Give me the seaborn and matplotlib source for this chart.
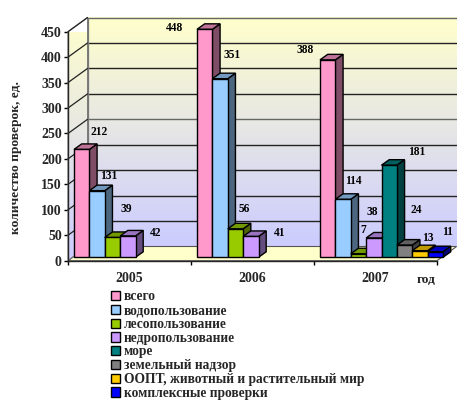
import numpy as np
import pandas as pd
import matplotlib
matplotlib.use("Agg")
import matplotlib.pyplot as plt
import seaborn as sns
from matplotlib.colors import LinearSegmentedColormap, to_rgb
from matplotlib.patches import Patch, Polygon
from matplotlib.transforms import Affine2D

years = ["2005", "2006", "2007"]
series_names = ["всего", "водопользование", "лесопользование", "недропользование",
                "море", "земельный надзор", "ООПТ, животный и растительный мир",
                "комплексные проверки"]
series_colors = ["#FF99CC", "#99CCFF", "#99CC00", "#CC99FF",
                 "#008080", "#808080", "#FFCC00", "#0000FF"]
counts_2005 = [212, 131, 39, 42]
counts_2006 = [448, 351, 56, 41]
counts_2007 = [388, 114, 7, 38, 181, 24, 13, 11]
y_ticks = [0, 50, 100, 150, 200, 250, 300, 350, 400, 450]
label_offsets_2005 = [(17, 17), (12, 15), (14, 28), (28, 3)]
label_offsets_2006 = [(-30, 1), (12, 24), (9, 20), (29, 3)]
label_offsets_2007 = [(-23, 10), (10, 18), (5, 24), (-2, 26), (27, 13), (12, 35), (8, 13), (12, 20)]

sns.set_theme(style="ticks", rc={
    "font.family": ["Liberation Serif", "DejaVu Serif"],
    "font.weight": "bold",
    "axes.labelweight": "bold",
    "axes.linewidth": 1.0,
})

records = []
for year, counts in zip(years, [counts_2005, counts_2006, counts_2007]):
    for name, value in zip(series_names, counts):
        records.append({"year": year, "series": name, "count": value})
frame = pd.DataFrame(records)

W, H = 457, 400
fig = plt.figure(figsize=(W / 100, H / 100), dpi=100, facecolor="white")
ax = fig.add_axes([68 / W, (H - 260.7) / H, 369 / W, 229 / H], facecolor="none")

sns.barplot(data=frame, x="year", y="count", hue="series", order=years,
            hue_order=series_names, palette=dict(zip(series_names, series_colors)),
            width=1.0, gap=0, saturation=1, errorbar=None, legend=False,
            edgecolor="black", linewidth=1.0, ax=ax, zorder=10)

ax.set_xlim(-0.5, 2.5)
ax.set_ylim(0, 450)
px_x = 3 / 369          # data units per pixel, horizontally
px_y = 450 / 229        # data units per pixel, vertically

# Back wall and floor of the pseudo-3D box
depth_x, depth_y = 19.6 * px_x, 14.2 * px_y
wall_cmap = LinearSegmentedColormap.from_list("wall", ["#CCCCFF", "#FFFFCC"])
gradient = np.linspace(0, 1, 256).reshape(-1, 1)
back = ax.imshow(gradient, cmap=wall_cmap, origin="lower", aspect="auto", zorder=1,
                 extent=(-0.5 + depth_x, 2.5 + depth_x, depth_y, 450 + depth_y))
back.set_clip_on(False)
side = ax.imshow(gradient, cmap=wall_cmap, origin="lower", aspect="auto", zorder=1,
                 extent=(-0.5, -0.5 + depth_x, 0, 450 + depth_y))
side_outline = [(-0.5, 0), (-0.5 + depth_x, depth_y), (-0.5 + depth_x, 450 + depth_y), (-0.5, 450)]
side.set_clip_path(Polygon(side_outline, transform=ax.transData))
ax.set_xlim(-0.5, 2.5)
ax.set_ylim(0, 450)

ax.add_patch(Polygon([(-0.5, 0), (2.5, 0), (2.5 + depth_x, depth_y), (-0.5 + depth_x, depth_y)],
                     facecolor="#FFFFCC", edgecolor="#555555", linewidth=0.8,
                     clip_on=False, zorder=2))
ax.add_patch(Polygon(side_outline, facecolor="none", edgecolor="#777777", linewidth=0.8,
                     clip_on=False, zorder=2))
for tick in y_ticks[1:]:
    shade = "#666666" if tick in (250, 450) else "#222222"
    ax.plot([-0.5 + depth_x, 2.5 + depth_x], [tick + depth_y] * 2, color=shade, lw=1.0,
            clip_on=False, zorder=3)
    ax.plot([-0.5, -0.5 + depth_x], [tick, tick + depth_y], color="#222222", lw=0.9,
            clip_on=False, zorder=3)
ax.plot([-0.5 + depth_x] * 2, [depth_y, 450 + depth_y], color="#777777", lw=0.9,
        clip_on=False, zorder=3)

# Bars stand a little behind the front edge; each gets a side and a top face
shift = Affine2D().translate(6.0, 3.4)
bar_x, bar_y = 7.7 * px_x, 5.5 * px_y
bars = sorted((b for b in ax.patches if isinstance(b, matplotlib.patches.Rectangle)
               and b.get_height() > 0 and b.get_zorder() >= 10), key=lambda b: b.get_x())
offsets = label_offsets_2005 + label_offsets_2006 + label_offsets_2007
for i, (bar, off) in enumerate(zip(bars, offsets)):
    x0, w, h = bar.get_x(), bar.get_width(), bar.get_height()
    rgb = np.array(to_rgb(bar.get_facecolor()))
    layer = 10 + i * 0.1
    bar.set_transform(ax.transData + shift)
    bar.set_clip_on(False)
    bar.set_zorder(layer + 0.02)
    side_face = [(x0 + w, 0), (x0 + w + bar_x, bar_y), (x0 + w + bar_x, h + bar_y), (x0 + w, h)]
    top_face = [(x0, h), (x0 + w, h), (x0 + w + bar_x, h + bar_y), (x0 + bar_x, h + bar_y)]
    for pts, factor in ((side_face, 0.5), (top_face, 0.75)):
        ax.add_patch(Polygon(pts, facecolor=rgb * factor, edgecolor="black", linewidth=1.0,
                             transform=ax.transData + shift, clip_on=False, zorder=layer))
    ax.annotate(f"{int(h)}", xy=(x0 + w / 2, h), xytext=((off[0] + 6.0) * 0.72, (off[1] + 3.4) * 0.72),
                textcoords="offset points", ha="center", va="center", fontsize=8.3,
                fontweight="bold", color="black", zorder=40, annotation_clip=False)

# Axes, ticks and titles
sns.despine(ax=ax)
ax.spines["left"].set_zorder(30)
ax.spines["bottom"].set_zorder(30)
ax.set_yticks(y_ticks)
ax.tick_params(axis="y", length=3, width=1, pad=1.5, labelsize=10, color="black")
ax.set_xticks(range(len(years)), years)
ax.tick_params(axis="x", which="major", length=0, pad=8, labelsize=10)
ax.set_xticks([-0.5, 0.5, 1.5, 2.5], minor=True)
ax.tick_params(axis="x", which="minor", length=3, width=1, color="black")
ax.set_xlabel("")
ax.set_ylabel("")
fig.text(16 / W, 1 - 157 / H, "количество проверок, ед.", rotation=90, ha="center", va="center",
         fontsize=9.7, fontweight="bold")
fig.text(426.5 / W, 1 - 280 / H, "год", ha="center", va="center", fontsize=9.6, fontweight="bold")

handles = [Patch(facecolor=c, edgecolor="black", linewidth=1.0) for c in series_colors]
fig.legend(handles, series_names, loc="upper left", bbox_to_anchor=(110.7 / W, 1 - 290.5 / H),
           frameon=False, fontsize=9.75, handlelength=0.67, handleheight=0.67, handletextpad=0.32,
           labelspacing=0.055, borderpad=0, borderaxespad=0)

fig.savefig("out.png", dpi=100)
